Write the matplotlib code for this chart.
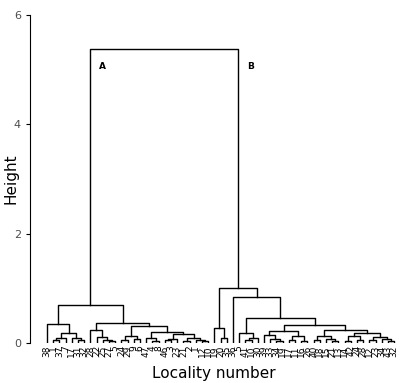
import matplotlib.pyplot as plt

# leaf labels in dendrogram order (left to right)
leaf_labels = ["38", "1", "37", "7", "17", "31", "32", "28", "22", "25", "27", "5", "24",
               "29", "9", "6", "47", "4", "8", "46", "3", "23", "21", "2", "1", "12", "10",
               "19", "20", "35", "36", "5", "41", "10", "30", "39", "33", "34", "19", "17",
               "11", "16", "26", "40", "18", "15", "21", "13", "14", "42", "24", "28",
               "12", "23", "34", "43", "32"]

# subtrees: (left, right, height); ints are leaf positions
a_left = (0, (((1, 2, 0.05), 3, 0.10), (4, (5, 6, 0.06), 0.10), 0.18), 0.35)
a_right_1 = (7, (8, (9, (10, 11, 0.04), 0.06), 0.11), 0.23)
a_right_2 = (((12, 13, 0.05), (14, 15, 0.08), 0.12),
             ((16, (17, 18, 0.04), 0.10),
              (((19, 20, 0.05), 21, 0.08),
               ((22, 23, 0.04), (24, (25, 26, 0.03), 0.06), 0.09), 0.16), 0.20), 0.32)
cluster_a = (a_left, (a_right_1, a_right_2, 0.37), 0.69)

b_left = (27, (28, 29, 0.09), 0.28)
b_rr1 = (31, ((32, 33, 0.05), 34, 0.10), 0.19)
b_c = ((35, (36, (37, 38, 0.03), 0.07), 0.15), ((39, 40, 0.05), (41, 42, 0.04), 0.13), 0.22)
b_d = (((43, 44, 0.06), (45, (46, 47, 0.03), 0.07), 0.12),
       (((48, 49, 0.04), (50, 51, 0.06), 0.13),
        ((52, 53, 0.05), (54, (55, 56, 0.04), 0.07), 0.11), 0.18), 0.24)
cluster_b = (b_left, (30, (b_rr1, (b_c, b_d, 0.33), 0.46), 0.85), 1.00)

root_height = 5.37


def draw(ax, node):
    if isinstance(node, int):
        return node, 0.0
    left, right, h = node
    xl, hl = draw(ax, left)
    xr, hr = draw(ax, right)
    ax.plot([xl, xl, xr, xr], [hl, h, h, hr], color='black', lw=1.0)
    return (xl + xr) / 2, h


fig = plt.figure(figsize=(4, 3.83), dpi=100)
ax = fig.add_axes([0.075, 0.1044, 0.92, 0.8564])
draw(ax, (cluster_a, cluster_b, root_height))

for i, lab in enumerate(leaf_labels):
    ax.text(i, -0.04, lab, rotation=90, ha='center', va='top', fontsize=6.5)

ax.text(9.0, 5.05, "A", fontsize=6.5, fontweight='bold', ha='center', va='center')
ax.text(32.9, 5.05, "B", fontsize=6.5, fontweight='bold', ha='center', va='center')

ax.set_xlim(-2.74, 56.6)
ax.set_ylim(0, 6)
ax.set_yticks([0, 2, 4, 6])
ax.set_xticks([])
ax.tick_params(axis='y', labelsize=8, labelcolor='#4d4d4d', length=3, width=0.8)
for s in ['top', 'right', 'bottom']:
    ax.spines[s].set_visible(False)
ax.spines['left'].set_linewidth(0.8)

fig.text(0.535, 0.005, "Locality number", ha='center', va='bottom', fontsize=11)
fig.text(0.008, 0.533, "Height", rotation=90, ha='left', va='center', fontsize=11)

fig.savefig("out.png", dpi=100)
